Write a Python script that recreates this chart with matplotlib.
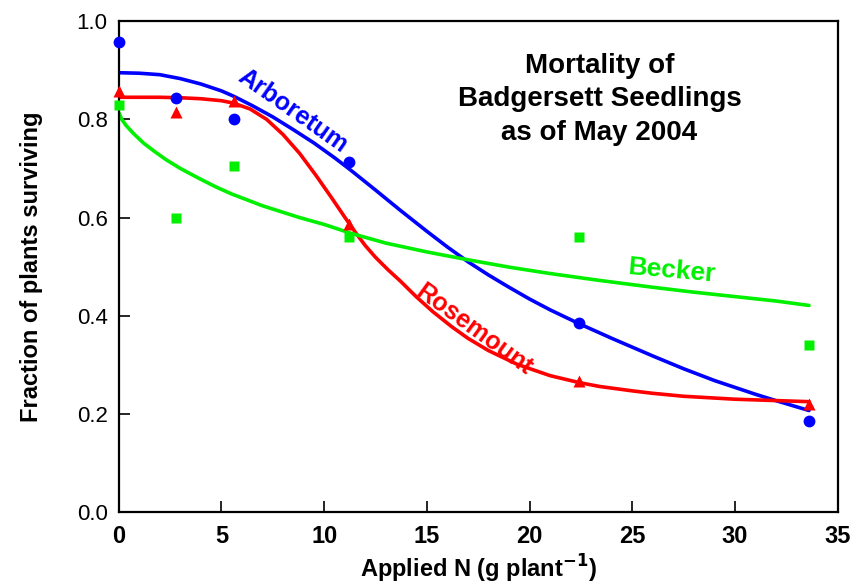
import matplotlib

matplotlib.use("Agg")
import matplotlib.pyplot as plt

# observed fractions surviving at each N rate
N_RATES = [0, 2.8, 5.6, 11.2, 22.4, 33.6]
ARBORETUM = [0.957, 0.843, 0.800, 0.714, 0.386, 0.186]
ROSEMOUNT = [0.857, 0.814, 0.838, 0.586, 0.267, 0.220]
BECKER = [0.829, 0.600, 0.706, 0.560, 0.560, 0.340]

# fitted curves
ARB_FIT_X = [0, 1, 2, 3, 4, 5, 5.6, 6.5, 7.5, 8.5, 9.5, 10.5, 11.25, 12.5, 13.7,
             15, 16, 17, 18, 19, 20, 21, 22.4, 24, 25, 26, 27.5, 29, 30, 31, 32, 33.6]
ARB_FIT_Y = [0.895, 0.894, 0.891, 0.883, 0.872, 0.858, 0.847, 0.828, 0.805, 0.779,
             0.752, 0.722, 0.698, 0.656, 0.615, 0.572, 0.540, 0.510, 0.483, 0.458,
             0.434, 0.412, 0.384, 0.354, 0.336, 0.318, 0.292, 0.268, 0.254, 0.240,
             0.227, 0.207]
ROSE_FIT_X = [0, 1, 2, 3, 4, 5, 5.6, 6.4, 7.2, 8, 8.8, 9.6, 10.4, 11.0, 11.57,
              12.0, 12.5, 13.1, 13.7, 14.5, 15.3, 16.2, 17, 18, 19.4, 21, 22.4,
              23.4, 25, 26, 27.5, 30, 33.6]
ROSE_FIT_Y = [0.845, 0.845, 0.845, 0.844, 0.842, 0.838, 0.833, 0.821, 0.800, 0.769,
              0.731, 0.686, 0.638, 0.601, 0.567, 0.543, 0.519, 0.494, 0.471, 0.438,
              0.408, 0.378, 0.354, 0.329, 0.301, 0.278, 0.264, 0.256, 0.247, 0.242,
              0.236, 0.230, 0.225]
BECK_FIT_X = [0, 0.15, 0.35, 0.7, 1.2, 1.7, 2.3, 3.0, 3.9, 4.7, 5.5, 7, 8.8, 10,
              11.3, 13, 15, 17, 19, 21, 23.4, 26, 28, 30, 32, 33.6]
BECK_FIT_Y = [0.814, 0.800, 0.788, 0.772, 0.752, 0.736, 0.718, 0.700, 0.680, 0.663,
              0.648, 0.624, 0.600, 0.586, 0.568, 0.548, 0.530, 0.514, 0.499, 0.486,
              0.472, 0.458, 0.448, 0.439, 0.430, 0.421]

BLUE = "#0000ff"
RED = "#ff0000"
GREEN = "#00f000"

plt.rcParams["font.family"] = ["Liberation Sans", "DejaVu Sans"]
NARROW = ["Liberation Sans Narrow", "DejaVu Sans Condensed", "Liberation Sans"]

fig = plt.figure(figsize=(8.54, 5.88), dpi=100)
ax = fig.add_axes([0.139, 0.129, 0.842, 0.835])

ax.plot(ARB_FIT_X, ARB_FIT_Y, color=BLUE, lw=2.6, solid_capstyle="round", zorder=2)
ax.plot(ROSE_FIT_X, ROSE_FIT_Y, color=RED, lw=2.6, solid_capstyle="round", zorder=2)
ax.plot(BECK_FIT_X, BECK_FIT_Y, color=GREEN, lw=2.6, solid_capstyle="round", zorder=2)

ax.plot(N_RATES, ARBORETUM, "o", color=BLUE, ms=8.5, mec="none", zorder=3, clip_on=False)
ax.plot(N_RATES, ROSEMOUNT, "^", color=RED, ms=8.5, mec="none", zorder=3, clip_on=False)
ax.plot(N_RATES, BECKER, "s", color=GREEN, ms=7, mec="none", zorder=3, clip_on=False)

ax.text(8.45, 0.818, "Arboretum", color=BLUE, fontsize=18, fontweight="bold",
        rotation=-35, ha="center", va="center", rotation_mode="anchor")
ax.text(17.3, 0.372, "Rosemount", color=RED, fontsize=18, fontweight="bold",
        rotation=-36, ha="center", va="center", rotation_mode="anchor")
ax.text(26.9, 0.492, "Becker", color=GREEN, fontsize=19, fontweight="bold",
        rotation=-5, ha="center", va="center", rotation_mode="anchor")

ax.text(23.4, 0.841, "Mortality of\nBadgersett Seedlings\nas of May 2004",
        fontsize=20, fontweight="bold", ha="center", va="center", linespacing=1.38)

ax.set_xlim(0, 35)
ax.set_ylim(0, 1.0)
ax.set_xticks(range(0, 36, 5))
ax.set_yticks([0.0, 0.2, 0.4, 0.6, 0.8, 1.0])
ax.set_yticklabels(["0.0", "0.2", "0.4", "0.6", "0.8", "1.0"])
ax.tick_params(direction="in", length=8, width=1.2, labelsize=16)
ax.tick_params(axis="x", pad=9, labelsize=17)
ax.tick_params(axis="y", pad=8)
for lab in ax.get_xticklabels():
    lab.set_fontweight("bold")
    lab.set_family(NARROW)
for sp in ax.spines.values():
    sp.set_linewidth(1.6)

ax.set_xlabel("Applied N (g plant$^{\\mathbf{-1}}$)", fontsize=17, fontweight="bold",
              labelpad=4)
ax.set_ylabel("Fraction of plants surviving", fontsize=17, fontweight="bold", labelpad=24)

fig.savefig("out.png", dpi=100)
